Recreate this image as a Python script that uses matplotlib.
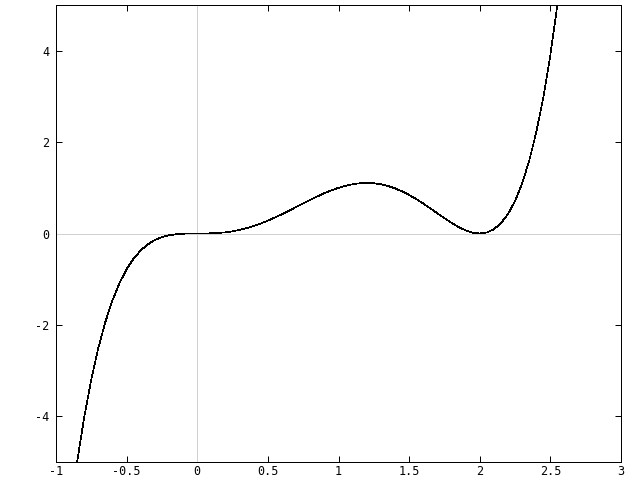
import matplotlib
matplotlib.use("Agg")
import matplotlib.pyplot as plt

# curve samples
xs = [-0.90, -0.85, -0.80, -0.75, -0.70, -0.65, -0.60, -0.55, -0.50, -0.45,
      -0.40, -0.35, -0.30, -0.25, -0.20, -0.15, -0.10, -0.05, 0.00, 0.05,
      0.10, 0.15, 0.20, 0.25, 0.30, 0.35, 0.40, 0.45, 0.50, 0.55,
      0.60, 0.65, 0.70, 0.75, 0.80, 0.85, 0.90, 0.95, 1.00, 1.05,
      1.10, 1.15, 1.20, 1.25, 1.30, 1.35, 1.40, 1.45, 1.50, 1.55,
      1.60, 1.65, 1.70, 1.75, 1.80, 1.85, 1.90, 1.95, 2.00, 2.05,
      2.10, 2.15, 2.20, 2.25, 2.30, 2.35, 2.40, 2.45, 2.50, 2.55, 2.60]
ys = [-6.131, -4.988, -4.014, -3.190, -2.500, -1.929, -1.460, -1.082, -0.781, -0.547,
      -0.369, -0.237, -0.143, -0.079, -0.039, -0.016, -0.004, -0.0005, 0.0, 0.0005,
      0.004, 0.012, 0.026, 0.048, 0.078, 0.117, 0.164, 0.219, 0.281, 0.350,
      0.423, 0.500, 0.580, 0.659, 0.737, 0.812, 0.882, 0.945, 1.000, 1.045,
      1.078, 1.099, 1.106, 1.099, 1.077, 1.040, 0.988, 0.922, 0.844, 0.754,
      0.655, 0.550, 0.442, 0.335, 0.233, 0.142, 0.069, 0.019, 0.0, 0.022,
      0.093, 0.224, 0.426, 0.712, 1.095, 1.590, 2.212, 2.978, 3.906, 5.016, 6.327]

xticks = [-1, -0.5, 0, 0.5, 1, 1.5, 2, 2.5, 3]
xlabels = ["-1", "-0.5", "0", "0.5", "1", "1.5", "2", "2.5", "3"]
yticks = [-4, -2, 0, 2, 4]
ylabels = ["-4", "-2", "0", "2", "4"]

plt.rcParams['font.family'] = ['DejaVu Sans Mono']
plt.rcParams['lines.antialiased'] = False

fig = plt.figure(figsize=(6.4, 4.8), dpi=100)
ax = fig.add_axes([56/640, 1 - 462/480, (621-56)/640, (462-5)/480])

ax.axhline(0, color='#d0d0d0', lw=0.72)
ax.axvline(0, color='#d0d0d0', lw=0.72)
ax.plot(xs, ys, color='black', lw=0.5)

ax.set_xlim(-1, 3)
ax.set_ylim(-5, 5)
ax.set_xticks(xticks)
ax.set_xticklabels(xlabels)
ax.set_yticks(yticks)
ax.set_yticklabels(ylabels)
ax.tick_params(direction='in', length=4, width=0.72, top=True, right=True,
               labelsize=8.5)
ax.tick_params(axis='x', pad=2)
ax.tick_params(axis='y', pad=5)
for s in ax.spines.values():
    s.set_linewidth(0.72)

fig.savefig('out.png', dpi=100)
